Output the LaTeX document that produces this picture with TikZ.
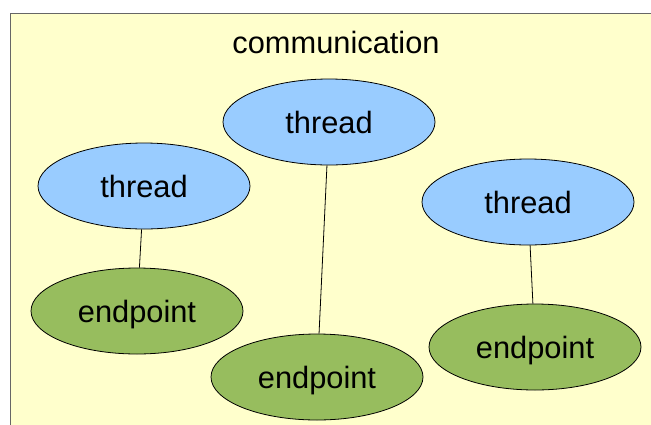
\documentclass[tikz,border=0pt]{standalone}
\usepackage{fontspec}
\setmainfont{Liberation Sans}
\usepackage{tikz}
\usetikzlibrary{shapes.geometric}

\definecolor{notebg}{HTML}{FFFFCC}
\definecolor{threadblue}{HTML}{99CCFF}
\definecolor{endgreen}{RGB}{151,189,94}

\begin{document}
\begin{tikzpicture}[x=1pt,y=-1pt]
        \tikzstyle{every node}+=[inner sep=0pt]
        \tikzset{
            blob/.style={ellipse, draw=black, line width=0.8pt, minimum width=212pt, minimum height=86pt,
                text height=22.5pt, text depth=0pt, font=\fontsize{30.8}{36}\selectfont},
            thread/.style={blob, fill=threadblue},
            endpt/.style={blob, fill=endgreen}
        }
        \useasboundingbox (0,0) rectangle (651,424);
        \clip (0,0) rectangle (651,424);
        \draw [black!60, fill=notebg, line width=1.5pt] (10.5,13.5) rectangle (670,440);
        \node (title) at (336,42) {\fontsize{30.8}{36}\selectfont communication};
        % threads
        \node [thread] (t1) at (144,186) {thread};
        \node [thread] (t2) at (329,122) {thread};
        \node [thread] (t3) at (528,202) {thread};
        % endpoints
        \node [endpt] (e1) at (137,311) {endpoint};
        \node [endpt] (e2) at (317,377) {endpoint};
        \node [endpt] (e3) at (535,347) {endpoint};
        % links
        \draw [black, line width=0.8pt] (t1) -- (e1);
        \draw [black, line width=0.8pt] (t2) -- (e2);
        \draw [black, line width=0.8pt] (t3) -- (e3);
\end{tikzpicture}
\end{document}
